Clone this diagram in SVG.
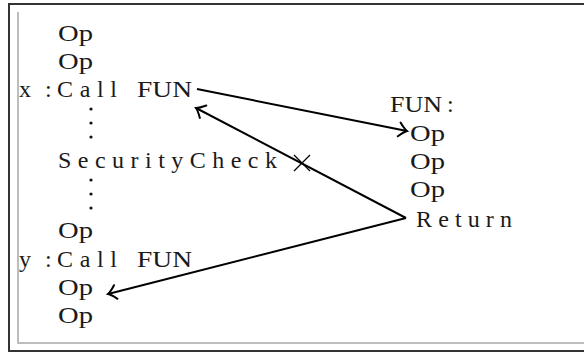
<svg xmlns="http://www.w3.org/2000/svg" width="584" height="352" viewBox="0 0 584 352">
<style>
text{font-family:"Liberation Serif","Times New Roman",serif;font-size:24px;fill:#1a1a1a}
.ln{stroke:#000;stroke-width:2;fill:none}
.dot{fill:#111}
</style>
<defs>
<marker id="ah" markerUnits="userSpaceOnUse" markerWidth="20" markerHeight="20" refX="0" refY="0" viewBox="-12 -10 14 20" orient="auto" overflow="visible">
<path d="M-8,-7 Q-3,-1.5 0,0 Q-3,1.5 -8,7" fill="none" stroke="#000" stroke-width="2" stroke-linecap="round"/>
</marker>
</defs>
<g id="frame">
<polyline points="18,12 18,343 584,343" fill="none" stroke="#a8a8a8" stroke-width="1.5"/>
<polyline points="584,4 9,4 9,351 584,351" fill="none" stroke="#333" stroke-width="2"/>
</g>
<g id="caller">
<text x="58" y="41" textLength="35" lengthAdjust="spacingAndGlyphs">Op</text>
<text x="58" y="69" textLength="35" lengthAdjust="spacingAndGlyphs">Op</text>
<text x="19 45" y="97">x:</text>
<text x="57" y="97" textLength="60" lengthAdjust="spacing">Call</text>
<text x="137" y="97" textLength="55" lengthAdjust="spacingAndGlyphs">FUN</text>
<circle class="dot" cx="91" cy="109" r="1.6"/>
<circle class="dot" cx="91" cy="123" r="1.6"/>
<circle class="dot" cx="91" cy="137" r="1.6"/>
<text x="58" y="168" textLength="219" lengthAdjust="spacing">SecurityCheck</text>
<circle class="dot" cx="91" cy="180" r="1.6"/>
<circle class="dot" cx="91" cy="194" r="1.6"/>
<circle class="dot" cx="91" cy="208" r="1.6"/>
<text x="58" y="238" textLength="35" lengthAdjust="spacingAndGlyphs">Op</text>
<text x="19 45" y="267">y:</text>
<text x="57" y="267" textLength="60" lengthAdjust="spacing">Call</text>
<text x="137" y="267" textLength="55" lengthAdjust="spacingAndGlyphs">FUN</text>
<text x="58" y="295" textLength="35" lengthAdjust="spacingAndGlyphs">Op</text>
<text x="58" y="323" textLength="35" lengthAdjust="spacingAndGlyphs">Op</text>
</g>
<g id="fun">
<text x="390" y="112" textLength="52" lengthAdjust="spacingAndGlyphs">FUN</text>
<text x="447" y="112">:</text>
<text x="410" y="141" textLength="35" lengthAdjust="spacingAndGlyphs">Op</text>
<text x="410" y="169" textLength="35" lengthAdjust="spacingAndGlyphs">Op</text>
<text x="410" y="197" textLength="35" lengthAdjust="spacingAndGlyphs">Op</text>
<text x="416" y="227" textLength="96" lengthAdjust="spacing">Return</text>
</g>
<g id="connectors">
<line class="ln" x1="197" y1="89" x2="407" y2="131" marker-end="url(#ah)"/>
<line class="ln" x1="406" y1="218" x2="196" y2="108" marker-end="url(#ah)"/>
<line class="ln" x1="406" y1="218" x2="108" y2="294" marker-end="url(#ah)"/>
<g stroke="#000" stroke-width="1.3">
<line x1="294" y1="155" x2="310" y2="171"/>
<line x1="294" y1="171" x2="310" y2="155"/>
</g>
</g>
</svg>
